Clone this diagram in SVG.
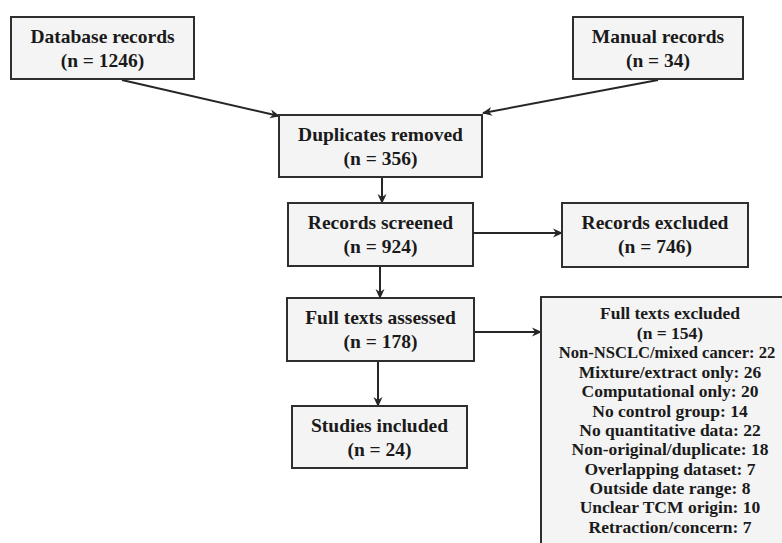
<svg xmlns="http://www.w3.org/2000/svg" width="782" height="543" viewBox="0 0 782 543">
<style>
.box{fill:#f4f4f4;stroke:#2e2e2e;stroke-width:2}
.t{font-family:"Liberation Serif","Times New Roman",serif;font-weight:bold;font-size:19.5px;fill:#1a1a1a;text-anchor:middle}
.s{font-family:"Liberation Serif","Times New Roman",serif;font-weight:bold;font-size:17.5px;fill:#1a1a1a;text-anchor:middle}
.c{fill:none;stroke:#262626;stroke-width:2}
</style>
<defs>
<marker id="ah" viewBox="0 0 10 10" refX="9" refY="5" markerWidth="10" markerHeight="10" orient="auto" markerUnits="userSpaceOnUse">
<path d="M0,0.5 L10,5 L0,9.5 L3,5 Z" fill="#262626"/>
</marker>
</defs>
<rect width="782" height="543" fill="#ffffff"/>
<g id="connectors">
<path class="c" d="M122,80 L279,116" marker-end="url(#ah)"/>
<path class="c" d="M658,80 L483,113" marker-end="url(#ah)"/>
<path class="c" d="M382,177 L382,203" marker-end="url(#ah)"/>
<path class="c" d="M473,233 L562,233" marker-end="url(#ah)"/>
<path class="c" d="M380,266 L380,298" marker-end="url(#ah)"/>
<path class="c" d="M474,332 L541,332" marker-end="url(#ah)"/>
<path class="c" d="M378,361 L378,406" marker-end="url(#ah)"/>
</g>
<g id="database">
<rect class="box" x="11" y="17" width="183" height="62"/>
<text class="t" x="102.5" y="43">Database records</text>
<text class="t" x="102.5" y="67">(n = 1246)</text>
</g>
<g id="manual">
<rect class="box" x="573" y="17" width="170" height="62"/>
<text class="t" x="658" y="43">Manual records</text>
<text class="t" x="658" y="67">(n = 34)</text>
</g>
<g id="duplicates">
<rect class="box" x="279" y="115" width="203" height="62"/>
<text class="t" x="380.5" y="141">Duplicates removed</text>
<text class="t" x="380.5" y="165">(n = 356)</text>
</g>
<g id="screened">
<rect class="box" x="288" y="203" width="185" height="63"/>
<text class="t" x="380.5" y="229">Records screened</text>
<text class="t" x="380.5" y="253">(n = 924)</text>
</g>
<g id="excluded">
<rect class="box" x="562" y="203" width="186" height="64"/>
<text class="t" x="655" y="229">Records excluded</text>
<text class="t" x="655" y="253">(n = 746)</text>
</g>
<g id="fulltexts">
<rect class="box" x="287" y="298" width="187" height="63"/>
<text class="t" x="380.5" y="324">Full texts assessed</text>
<text class="t" x="380.5" y="348">(n = 178)</text>
</g>
<g id="included">
<rect class="box" x="292" y="406" width="175" height="62"/>
<text class="t" x="379.5" y="432">Studies included</text>
<text class="t" x="379.5" y="456">(n = 24)</text>
</g>
<g id="ftexcluded">
<rect class="box" x="541" y="297" width="260" height="270"/>
<text class="s" x="670" y="319">Full texts excluded</text>
<text class="s" x="670" y="339">(n = 154)</text>
<text class="s" x="667" y="358" style="font-size:16.6px">Non-NSCLC/mixed cancer: 22</text>
<text class="s" x="670" y="378">Mixture/extract only: 26</text>
<text class="s" x="670" y="397">Computational only: 20</text>
<text class="s" x="670" y="417">No control group: 14</text>
<text class="s" x="670" y="436">No quantitative data: 22</text>
<text class="s" x="670" y="455">Non-original/duplicate: 18</text>
<text class="s" x="670" y="475">Overlapping dataset: 7</text>
<text class="s" x="670" y="494">Outside date range: 8</text>
<text class="s" x="670" y="513">Unclear TCM origin: 10</text>
<text class="s" x="670" y="533">Retraction/concern: 7</text>
</g>
</svg>
